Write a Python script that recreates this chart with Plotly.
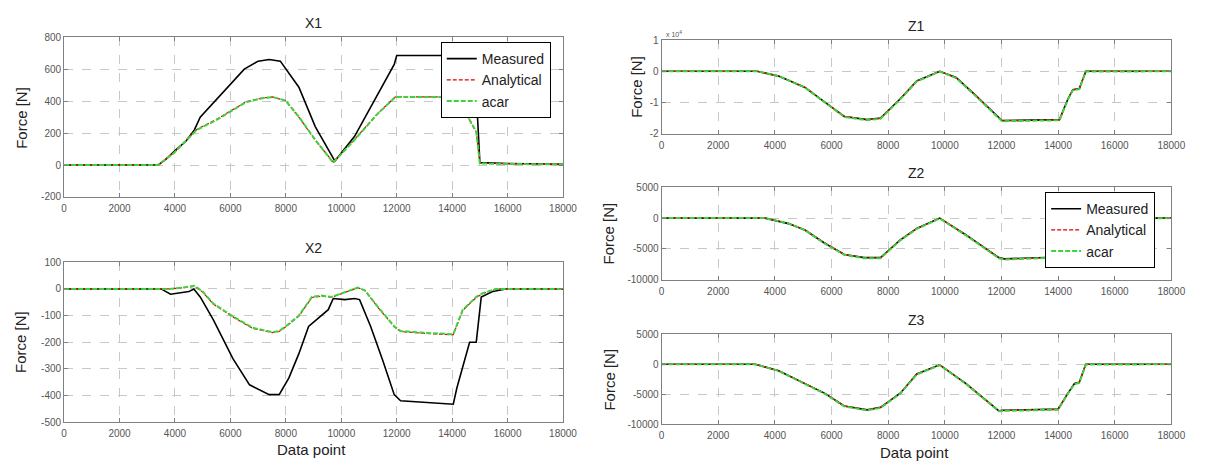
import plotly.graph_objects as go

# ---------------- data ----------------
# X1 panel
x1_meas_x = [0, 3400, 3700, 4000, 4400, 4700, 4910, 5380, 6000, 6500, 7000, 7400, 7800, 8470, 9060, 9530, 9770,
             10480, 11310, 11910, 12000, 14400, 14600, 14700, 14900, 15000, 16000, 18000]
x1_meas = [0, 0, 40, 90, 150, 220, 300, 390, 510, 600, 650, 660, 650, 487, 241, 96, 25,
           180, 445, 630, 685, 685, 660, 400, 350, 15, 10, 5]
x1_sim_x = [0, 3380, 3960, 4430, 4780, 5490, 6090, 6570, 7160, 7520, 7990, 8470, 9060, 9710,
            10480, 11310, 11950, 14000, 14250, 14500, 14870, 15000, 16000, 18000]
x1_anal = [0, 0, 78, 160, 222, 285, 345, 396, 420, 426, 402, 300, 155, 18,
           160, 322, 426, 426, 398, 318, 205, 12, 8, 5]
x1_acar = [0, 0, 75, 158, 219, 281, 342, 394, 418, 425, 404, 302, 158, 15,
           158, 320, 425, 425, 400, 320, 209, 10, 6, 5]

# X2 panel
x2_meas_x = [0, 3500, 3840, 4500, 4680, 4910, 5380, 6090, 6690, 7400, 7760, 8110, 8470, 8820, 9530, 9710,
             10130, 10480, 10660, 11060, 11500, 11910, 12140, 13000, 14040, 14170, 14630, 14870, 15050, 15460,
             15940, 18000]
x2_meas = [0, 0, -20, -10, 0, -30, -115, -262, -360, -397, -397, -334, -243, -141, -78, -36,
           -40, -36, -40, -141, -270, -397, -420, -425, -433, -372, -200, -200, -30, -10,
           0, 0]
x2_sim_x = [0, 3800, 4300, 4700, 5000, 5380, 6090, 6800, 7510, 7760, 8000, 8470, 8940, 9290, 9650,
            10130, 10600, 10850, 11320, 11910, 12140, 13000, 14040, 14380, 14870, 15110, 15590, 18000]
x2_anal = [0, 0, 4, 10, -12, -57, -105, -148, -164, -160, -142, -102, -32, -27, -31,
           -13, 4, -6, -69, -142, -160, -167, -172, -81, -32, -17, 0, 0]
x2_acar = [0, 0, 5, 12, -10, -55, -103, -146, -162, -158, -140, -100, -30, -25, -30,
           -12, 5, -5, -67, -140, -158, -165, -170, -79, -30, -16, 0, 0]

# Z1 panel
z1_x = [0, 3377, 4130, 5060, 5750, 6450, 7260, 7730, 8430, 9010, 9820, 10400, 11100, 11910, 12020,
        14050, 14350, 14520, 14750, 14980, 18000]
z1_meas = [0, 0, -1550, -5180, -9840, -14500, -15500, -15000, -8800, -3100, 0, -2000, -7800, -15000, -15800,
           -15500, -8800, -5900, -5500, 0, 0]
z1_anal = [0, 0, -1500, -5100, -9800, -14400, -15600, -15100, -8900, -3200, -50, -2100, -7900, -15100, -15900,
           -15600, -8900, -6000, -5600, -50, 0]
z1_acar = [0, 0, -1520, -5150, -9900, -14600, -15700, -15200, -9000, -3250, -80, -2150, -8000, -15200, -16000,
           -15700, -9000, -6100, -5700, -80, 0]

# Z2 panel
z2_x = [0, 3650, 4480, 5060, 5750, 6450, 7150, 7730, 8430, 9010, 9820, 10750, 11910, 12100,
        14050, 14350, 14550, 14750, 15000, 18000]
z2_meas = [0, 0, -890, -1940, -4040, -5890, -6400, -6400, -3520, -1680, 0, -2730, -6400, -6600,
           -6300, -3500, -2300, -2100, 0, 0]
z2_anal = [0, 0, -850, -1900, -4000, -5850, -6450, -6450, -3550, -1700, -30, -2750, -6450, -6650,
           -6350, -3550, -2350, -2150, -30, 0]
z2_acar = [0, 0, -870, -1950, -4100, -5950, -6500, -6500, -3600, -1750, -60, -2800, -6500, -6700,
           -6400, -3600, -2400, -2200, -60, 0]

# Z3 panel
z3_x = [0, 3300, 4130, 5060, 5750, 6450, 7260, 7730, 8430, 9010, 9820, 10750, 11910, 12050,
        14000, 14350, 14580, 14750, 14980, 18000]
z3_meas = [0, 0, -1070, -3220, -4830, -6980, -7630, -7200, -4830, -1610, -100, -3220, -7790, -7700,
           -7500, -4830, -3220, -3000, 0, 0]
z3_anal = [0, 0, -1050, -3200, -4850, -7000, -7650, -7250, -4880, -1650, -120, -3250, -7800, -7750,
           -7550, -4880, -3250, -3050, -30, 0]
z3_acar = [0, 0, -1100, -3280, -4900, -7050, -7700, -7300, -4900, -1700, -150, -3300, -7850, -7800,
           -7600, -4900, -3300, -3100, -50, 0]

series_names = ["Measured", "Analytical", "acar"]
x_ticks = [0, 2000, 4000, 6000, 8000, 10000, 12000, 14000, 16000, 18000]
x_ticklabels = ["0", "2000", "4000", "6000", "8000", "10000", "12000", "14000", "16000", "18000"]
x1_yticks = [-200, 0, 200, 400, 600, 800]
x1_yticklabels = ["-200", "0", "200", "400", "600", "800"]
x2_yticks = [-500, -400, -300, -200, -100, 0, 100]
x2_yticklabels = ["-500", "-400", "-300", "-200", "-100", "0", "100"]
z1_yticks = [-20000, -10000, 0, 10000]
z1_yticklabels = ["-2", "-1", "0", "1"]
z_yticks = [-10000, -5000, 0, 5000]
z_yticklabels = ["-10000", "-5000", "0", "5000"]

# ---------------- figure ----------------
W, H = 1209, 470
def px_x(a, b):
    return [a / W, b / W]
def px_y(top, bottom):
    return [(H - bottom) / H, (H - top) / H]

panels = [
    ("1", px_x(62, 568), px_y(32, 196), [-200, 800], x1_yticks, x1_yticklabels, "X1", "legend",
     x1_meas_x, x1_meas, x1_sim_x, x1_anal, x1_acar),
    ("2", px_x(62, 568), px_y(263, 427), [-500, 100], x2_yticks, x2_yticklabels, "X2", None,
     x2_meas_x, x2_meas, x2_sim_x, x2_anal, x2_acar),
    ("3", px_x(668, 1185), px_y(35, 131), [-20000, 10000], z1_yticks, z1_yticklabels, "Z1", None,
     z1_x, z1_meas, z1_x, z1_anal, z1_acar),
    ("4", px_x(668, 1185), px_y(186, 281), [-10000, 5000], z_yticks, z_yticklabels, "Z2", "legend2",
     z2_x, z2_meas, z2_x, z2_anal, z2_acar),
    ("5", px_x(668, 1185), px_y(337, 429), [-10000, 5000], z_yticks, z_yticklabels, "Z3", None,
     z3_x, z3_meas, z3_x, z3_anal, z3_acar),
]

fig = go.Figure()
FONT = "Liberation Sans, Arial, sans-serif"
axis_common = dict(
    showline=True, linecolor="#808080", linewidth=1, mirror="ticks",
    ticks="inside", ticklen=4, tickcolor="#808080",
    showgrid=True, gridcolor="#c8c8c8", griddash="dash", gridwidth=1,
    zeroline=False, tickfont=dict(family=FONT, size=10, color="#555555"),
)

annotations = []
layout = {}
for key, xd, yd, yr, yt, ytt, title, leg, mx, mv, sx, av, cv in panels:
    xa = "x" if key == "1" else "x" + key
    ya = "y" if key == "1" else "y" + key
    xname = "xaxis" if key == "1" else "xaxis" + key
    yname = "yaxis" if key == "1" else "yaxis" + key
    layout[xname] = dict(domain=xd, anchor=ya, range=[0, 18000], tickvals=x_ticks, ticktext=x_ticklabels,
                         ticklabelstandoff=2, **axis_common)
    layout[yname] = dict(domain=yd, anchor=xa, range=yr, tickvals=yt, ticktext=ytt, **axis_common)
    show = leg is not None
    lg = leg if show else "legend"
    fig.add_trace(go.Scatter(x=mx, y=mv, mode="lines", name=series_names[0], xaxis=xa, yaxis=ya,
                             line=dict(color="black", width=1.6), showlegend=show, legend=lg))
    fig.add_trace(go.Scatter(x=sx, y=av, mode="lines", name=series_names[1], xaxis=xa, yaxis=ya,
                             line=dict(color="#e00000", width=1.2, dash="4px,2px"), showlegend=show, legend=lg))
    fig.add_trace(go.Scatter(x=sx, y=cv, mode="lines", name=series_names[2], xaxis=xa, yaxis=ya,
                             line=dict(color="#3fd23f", width=2, dash="5px,2px"), showlegend=show, legend=lg))
    cx = (xd[0] + xd[1]) / 2
    annotations.append(dict(text=title, x=cx, y=yd[1], xref="paper", yref="paper", xanchor="center",
                            yanchor="bottom", yshift=4, showarrow=False,
                            font=dict(family=FONT, size=14, color="#222222")))

# axis titles
extra = [
    dict(text="Force [N]", x=18 / W, y=1 - 115 / H, textangle=-90),
    dict(text="Force [N]", x=17 / W, y=1 - 345 / H, textangle=-90),
    dict(text="Force [N]", x=643 / W, y=1 - 83 / H, textangle=-90),
    dict(text="Force [N]", x=614 / W, y=1 - 233 / H, textangle=-90),
    dict(text="Force [N]", x=615 / W, y=1 - 383 / H, textangle=-90),
    dict(text="Data point", x=313 / W, y=1 - 455 / H, textangle=0),
    dict(text="Data point", x=925 / W, y=1 - 458 / H, textangle=0),
]
for a in extra:
    a.update(xref="paper", yref="paper", xanchor="center", yanchor="middle", showarrow=False,
             font=dict(family=FONT, size=15, color="#222222"))
annotations += extra
annotations.append(dict(text="x 10<sup>4</sup>", x=670 / W, y=1 - 29 / H, xref="paper", yref="paper",
                        xanchor="left", yanchor="middle", showarrow=False,
                        font=dict(family=FONT, size=7, color="#555555")))

legend_style = dict(bgcolor="white", bordercolor="black", borderwidth=1,
                    font=dict(family=FONT, size=14, color="#222222"),
                    xanchor="left", yanchor="top", tracegroupgap=0, itemwidth=30)

fig.update_layout(
    width=W, height=H, margin=dict(l=0, r=0, t=0, b=0),
    paper_bgcolor="white", plot_bgcolor="white",
    annotations=annotations,
    legend=dict(x=444 / W, y=1 - 37 / H, **legend_style),
    legend2=dict(x=1057 / W, y=1 - 191 / H, **legend_style),
    **layout,
)

fig.write_html("out.html")
